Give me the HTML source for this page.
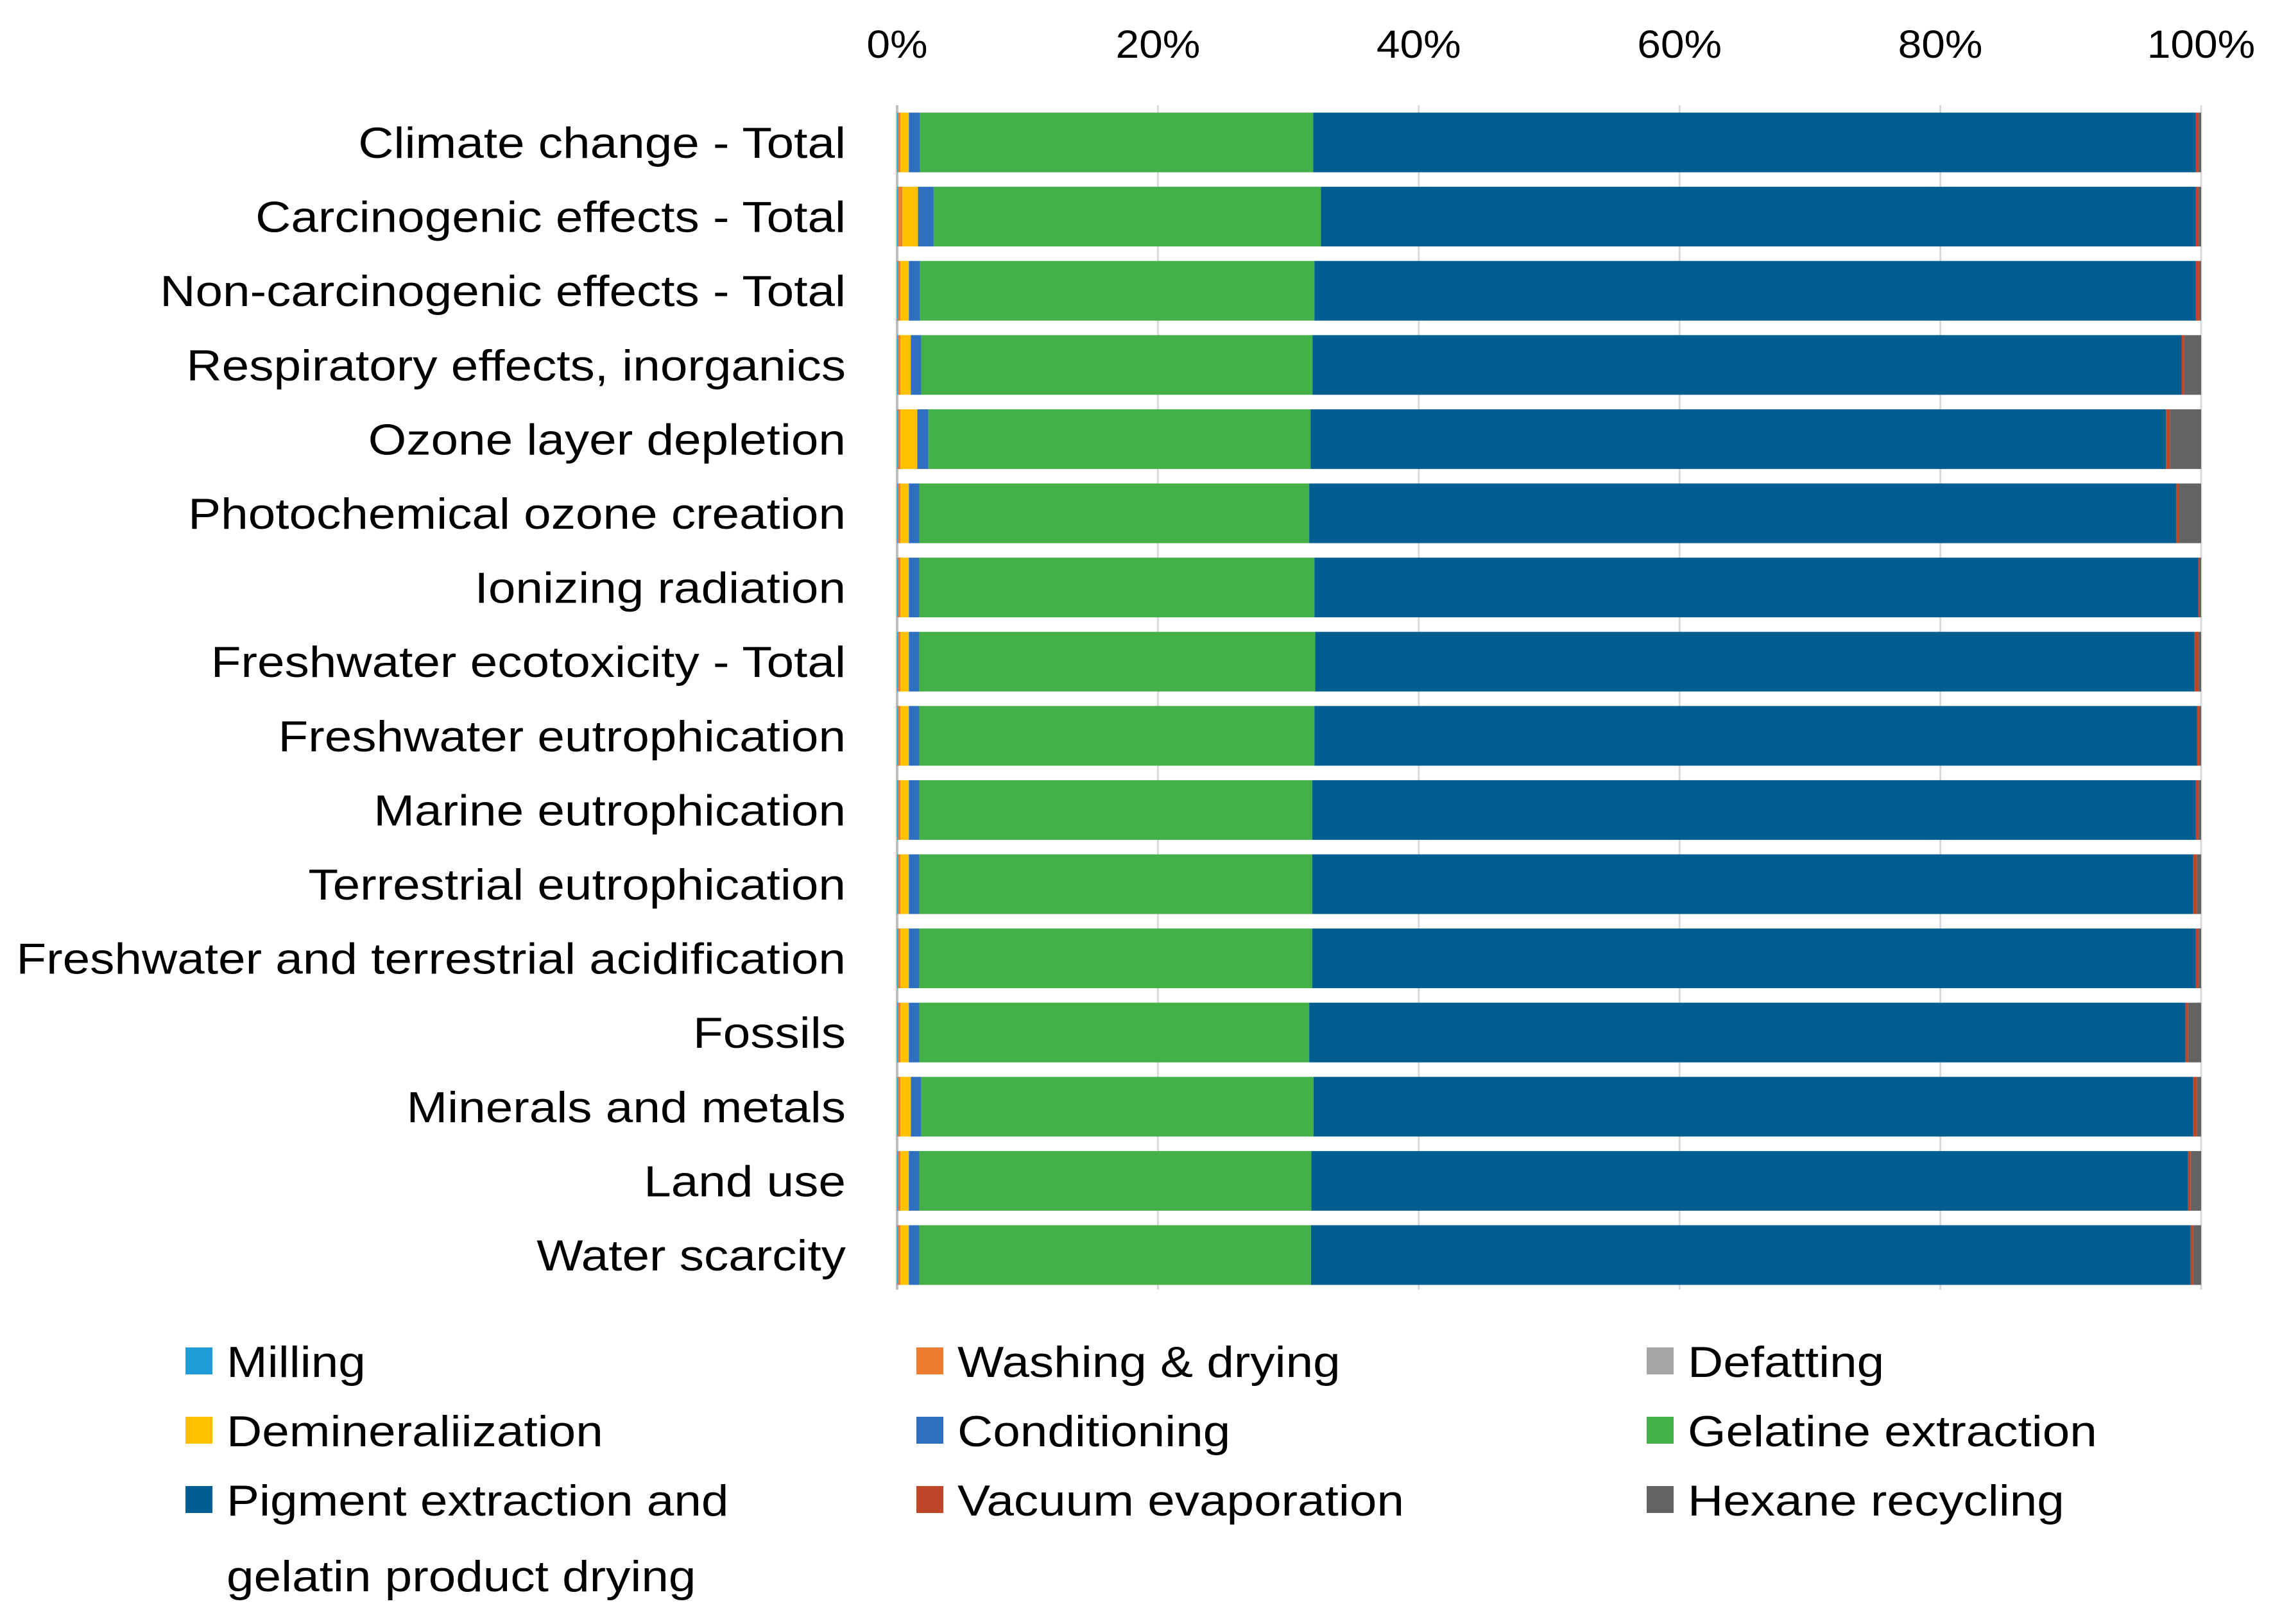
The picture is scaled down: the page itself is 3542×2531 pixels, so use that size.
<!DOCTYPE html>
<html><head><meta charset="utf-8"><style>
html,body{margin:0;padding:0;background:#fff;}
svg{display:block;font-family:"Liberation Sans",sans-serif;}
</style></head><body>
<svg id="chart" width="3542" height="2531" viewBox="0 0 3542 2531" xmlns="http://www.w3.org/2000/svg">
<g id="grid"></g>
<g id="bars"></g>
<g id="xticks"></g>
<g id="ylabels"></g>
<g id="legend"></g>
</svg>
<script>
const categories = ["Climate change - Total","Carcinogenic effects - Total","Non-carcinogenic effects - Total","Respiratory effects, inorganics","Ozone layer depletion","Photochemical ozone creation","Ionizing radiation","Freshwater ecotoxicity - Total","Freshwater eutrophication","Marine eutrophication","Terrestrial eutrophication","Freshwater and terrestrial acidification","Fossils","Minerals and metals","Land use","Water scarcity"];
const seriesNames = ["Milling","Washing & drying","Defatting","Demineraliization","Conditioning","Gelatine extraction","Pigment extraction and gelatin product drying","Vacuum evaporation","Hexane recycling"];
const milling      = [0.05,0.05,0.05,0.05,0.05,0.05,0.05,0.05,0.05,0.05,0.05,0.05,0.05,0.05,0.05,0.05];
const washing      = [0.2,0.35,0.2,0.2,0.2,0.2,0.2,0.2,0.2,0.2,0.2,0.2,0.2,0.2,0.2,0.2];
const defatting    = [0,0,0,0,0,0,0,0,0,0,0,0,0,0,0,0];
const demin        = [0.65,1.2,0.65,0.8,1.3,0.65,0.65,0.65,0.65,0.65,0.65,0.65,0.65,0.8,0.65,0.65];
const conditioning = [0.85,1.2,0.85,0.8,0.85,0.8,0.8,0.8,0.8,0.8,0.8,0.8,0.8,0.8,0.8,0.8];
const gelatine     = [30.15,29.7,30.25,30.0,29.3,29.9,30.3,30.3,30.3,30.1,30.1,30.1,29.9,30.0,30.1,30.1];
const pigment      = [67.7,67.1,67.6,66.65,65.6,66.5,67.8,67.3,67.7,67.7,67.5,67.7,67.2,67.3,67.3,67.6];
const vacuum       = [0.2,0.2,0.3,0.2,0.3,0.2,0.1,0.3,0.2,0.2,0.3,0.2,0.2,0.3,0.2,0.2];
const hexane       = [0.2,0.2,0.1,1.3,2.4,1.7,0.1,0.2,0.1,0.2,0.3,0.2,1.0,0.3,0.8,0.6];
const tickLabels = ["0%","20%","40%","60%","80%","100%"];
const tickValues = [0,20,40,60,80,100];

const series = [milling,washing,defatting,demin,conditioning,gelatine,pigment,vacuum,hexane];
const colors = ["#1F9BD7","#ED7D31","#A5A5A5","#FFC000","#2E6FBF","#44B048","#025E91","#C0462A","#636363"];
const NS = "http://www.w3.org/2000/svg";
const X0 = 1398, X1 = 3430, Y0 = 164, STEP = 115.6, BH = 93;
const xScale = v => X0 + (X1 - X0) * v / 100;
const yCenter = i => 222 + STEP * i;
function mk(tag, attrs, parent){const e=document.createElementNS(NS,tag);for(const k in attrs)e.setAttribute(k,attrs[k]);parent.appendChild(e);return e;}
function stretch(t, f){const w=t.getComputedTextLength();t.setAttribute('textLength',w*f);t.setAttribute('lengthAdjust','spacingAndGlyphs');}

const grid = document.getElementById('grid');
tickValues.forEach((v,i)=>{
  const l = mk('line',{x1:xScale(v),x2:xScale(v),y1:Y0,y2:2010,stroke:i===0?'#BFBFBF':'#D9D9D9','stroke-width':i===0?4:3},grid);
  
  
  const t = mk('text',{x:xScale(v),y:90,'text-anchor':'middle','font-size':61,fill:'#000'},document.getElementById('xticks'));
  t.textContent = tickLabels[i];
  
  
  stretch(t,1.08);
});

const bars = document.getElementById('bars');
categories.forEach((c,i)=>{
  let total = 0; series.forEach(s=>total+=s[i]);
  let acc = 0;
  series.forEach((s,k)=>{
    const v = s[i]/total*100;
    if (v > 0) {
      const r = mk('rect',{x:xScale(acc),y:yCenter(i)-BH/2,width:xScale(acc+v)-xScale(acc),height:BH,fill:colors[k]},bars);
      
      
    }
    acc += v;
  });
  const t = mk('text',{x:1318,y:yCenter(i)+24,'text-anchor':'end','font-size':68,fill:'#000'},document.getElementById('ylabels'));
  t.textContent = c;
  
  
  stretch(t,1.125);
});

const legend = document.getElementById('legend');
const lx = [289,1428,2566], ly = [2122,2230,2338];
seriesNames.forEach((n,k)=>{
  const col = k%3, row = Math.floor(k/3);
  const g = mk('g',{},legend);
  
  
  mk('rect',{x:lx[col],y:ly[row]-22,width:42,height:42,fill:colors[k]},g);
  const lines = k===6 ? ["Pigment extraction and","gelatin product drying"] : [n];
  lines.forEach((s,j)=>{
    const t = mk('text',{x:lx[col]+64,y:ly[row]+24+j*118,'font-size':68,fill:'#000'},g);
    t.textContent = s;
    stretch(t,1.125);
  });
});
</script>
</body></html>
